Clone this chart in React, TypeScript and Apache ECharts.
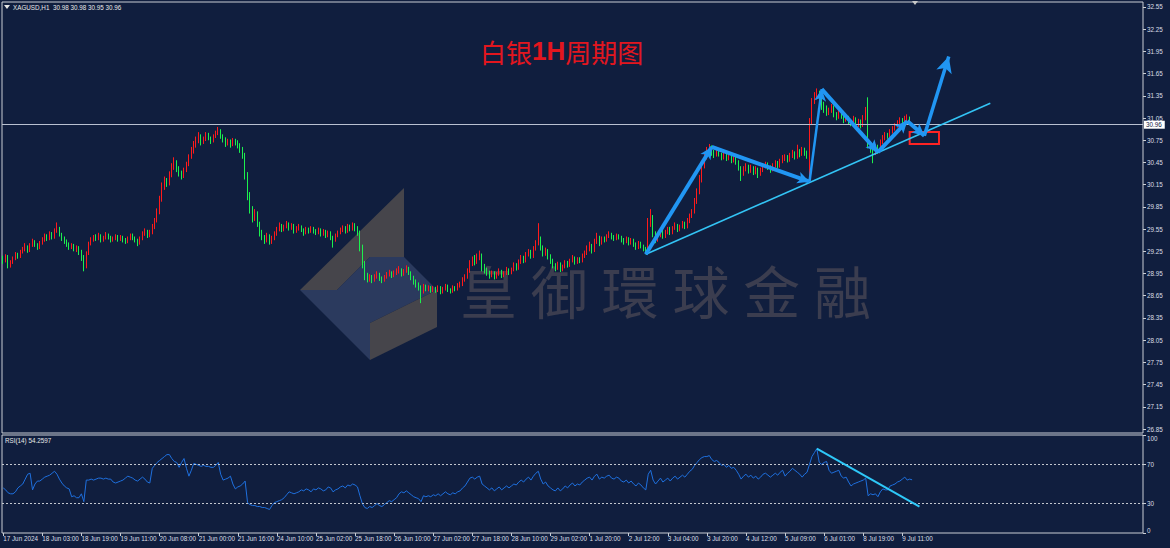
import React, { useEffect, useRef } from "react";
import * as echarts from "echarts";

// ---------- data ----------
const symbolName = "XAGUSD,H1";
const firstOpen = 29.15;
const closes = [
  29.12, 29.18, 29.05, 29.10, 29.15, 29.20, 29.18, 29.24, 29.28, 29.30, 29.26, 29.33, 29.38, 29.34, 29.30, 29.36,
  29.40, 29.45, 29.42, 29.48, 29.44, 29.52, 29.56, 29.48, 29.42, 29.38, 29.35, 29.30, 29.33, 29.28, 29.30, 29.25,
  29.18, 29.05, 29.22, 29.35, 29.40, 29.44, 29.42, 29.46, 29.40, 29.43, 29.47, 29.44, 29.40, 29.42, 29.45, 29.41,
  29.44, 29.40, 29.38, 29.42, 29.46, 29.43, 29.40, 29.36, 29.42, 29.48, 29.52, 29.46, 29.50, 29.58, 29.66, 29.78,
  29.95, 30.12, 30.20, 30.16, 30.28, 30.38, 30.45, 30.36, 30.30, 30.26, 30.34, 30.42, 30.52, 30.60, 30.68, 30.74,
  30.80, 30.72, 30.76, 30.82, 30.78, 30.74, 30.80, 30.84, 30.88, 30.80, 30.76, 30.70, 30.73, 30.69, 30.74, 30.72,
  30.68, 30.62, 30.55, 30.28, 30.00, 29.82, 29.70, 29.76, 29.62, 29.50, 29.44, 29.40, 29.46, 29.38, 29.42, 29.48,
  29.55, 29.60, 29.54, 29.58, 29.62, 29.56, 29.60, 29.52, 29.56, 29.58, 29.54, 29.50, 29.55, 29.52, 29.56, 29.52,
  29.50, 29.54, 29.48, 29.52, 29.46, 29.50, 29.44, 29.40, 29.46, 29.50, 29.53, 29.56, 29.52, 29.58, 29.55, 29.60,
  29.56, 29.50, 29.30, 29.08, 28.92, 28.88, 28.90, 28.86, 28.90, 28.94, 28.88, 28.86, 28.90, 28.93, 28.96, 28.92,
  28.95, 28.98, 29.00, 28.94, 28.98, 29.02, 28.96, 28.90, 28.84, 28.80, 28.76, 28.70, 28.78, 28.74, 28.76, 28.72,
  28.75, 28.72, 28.76, 28.70, 28.74, 28.78, 28.73, 28.71, 28.76, 28.74, 28.78, 28.80, 28.86, 28.90, 28.98, 29.08,
  29.14, 29.10, 29.16, 29.20, 29.05, 29.00, 28.96, 28.92, 28.96, 28.90, 28.94, 28.98, 28.92, 28.95, 29.00, 28.96,
  29.00, 29.06, 29.02, 29.10, 29.16, 29.12, 29.20, 29.24, 29.18, 29.28, 29.35, 29.40, 29.30, 29.22, 29.26, 29.18,
  29.12, 29.06, 29.02, 29.08, 29.00, 29.04, 29.10, 29.06, 29.12, 29.16, 29.10, 29.14, 29.12, 29.18, 29.22, 29.28,
  29.32, 29.26, 29.38, 29.44, 29.36, 29.42, 29.40, 29.45, 29.48, 29.44, 29.42, 29.46, 29.44, 29.40, 29.38, 29.42,
  29.36, 29.40, 29.34, 29.30, 29.36, 29.32, 29.28, 29.25, 29.62, 29.70, 29.48, 29.40, 29.46, 29.52, 29.45, 29.50,
  29.55, 29.50, 29.56, 29.60, 29.54, 29.58, 29.62, 29.58, 29.66, 29.72, 29.78, 29.92, 30.05, 30.22, 30.40, 30.52,
  30.60, 30.64, 30.58, 30.55, 30.60, 30.56, 30.52, 30.55, 30.50, 30.54, 30.48, 30.52, 30.46, 30.38, 30.30, 30.36,
  30.40, 30.34, 30.38, 30.32, 30.36, 30.30, 30.34, 30.40, 30.42, 30.38, 30.35, 30.40, 30.44, 30.40, 30.46, 30.50,
  30.52, 30.48, 30.54, 30.58, 30.52, 30.60, 30.56, 30.62, 30.58, 30.55, 31.00, 31.28, 31.34, 31.38, 31.30, 31.22,
  31.18, 31.12, 31.15, 31.20, 31.10, 31.06, 31.12, 31.08, 31.02, 31.06, 31.00, 30.98, 31.04, 30.96, 31.00, 30.95,
  31.05, 31.14, 30.68, 30.62, 30.58, 30.66, 30.62, 30.72, 30.78, 30.82, 30.80, 30.86, 30.90, 30.94, 30.98, 31.02,
  31.00, 31.04, 31.06, 30.98, 30.96,
];
const highs = [
  29.19, 29.21, 29.20, 29.13, 29.18, 29.24, 29.23, 29.27, 29.31, 29.36, 29.33, 29.36, 29.42, 29.40, 29.36, 29.39,
  29.44, 29.49, 29.48, 29.52, 29.51, 29.56, 29.64, 29.58, 29.50, 29.45, 29.41, 29.37, 29.36, 29.35, 29.33, 29.32,
  29.27, 29.20, 29.25, 29.38, 29.44, 29.47, 29.48, 29.50, 29.48, 29.46, 29.51, 29.49, 29.46, 29.45, 29.48, 29.47,
  29.47, 29.46, 29.43, 29.45, 29.49, 29.49, 29.45, 29.42, 29.45, 29.52, 29.56, 29.54, 29.54, 29.62, 29.70, 29.83,
  30.00, 30.18, 30.26, 30.24, 30.33, 30.44, 30.52, 30.48, 30.40, 30.34, 30.38, 30.46, 30.56, 30.66, 30.74, 30.80,
  30.86, 30.83, 30.80, 30.86, 30.85, 30.80, 30.83, 30.88, 30.93, 30.90, 30.83, 30.79, 30.77, 30.76, 30.78, 30.77,
  30.75, 30.71, 30.66, 30.58, 30.32, 30.05, 29.86, 29.82, 29.79, 29.65, 29.54, 29.47, 29.50, 29.48, 29.46, 29.52,
  29.58, 29.64, 29.62, 29.61, 29.66, 29.64, 29.63, 29.62, 29.59, 29.62, 29.60, 29.56, 29.58, 29.57, 29.59, 29.58,
  29.55, 29.57, 29.56, 29.55, 29.54, 29.53, 29.52, 29.46, 29.49, 29.53, 29.57, 29.60, 29.59, 29.62, 29.61, 29.64,
  29.63, 29.59, 29.53, 29.34, 29.12, 28.96, 28.94, 28.93, 28.94, 28.98, 28.96, 28.91, 28.93, 28.97, 29.00, 28.98,
  28.99, 29.02, 29.05, 29.02, 29.01, 29.06, 29.04, 28.98, 28.92, 28.87, 28.83, 28.79, 28.81, 28.80, 28.79, 28.78,
  28.78, 28.77, 28.79, 28.78, 28.77, 28.81, 28.80, 28.75, 28.79, 28.78, 28.82, 28.84, 28.90, 28.94, 29.02, 29.13,
  29.18, 29.20, 29.22, 29.26, 29.22, 29.08, 29.03, 28.99, 28.99, 28.98, 28.97, 29.02, 29.00, 28.98, 29.04, 29.02,
  29.03, 29.10, 29.09, 29.14, 29.20, 29.19, 29.24, 29.28, 29.27, 29.32, 29.40, 29.63, 29.45, 29.33, 29.30, 29.28,
  29.21, 29.15, 29.09, 29.11, 29.10, 29.07, 29.13, 29.12, 29.15, 29.20, 29.18, 29.17, 29.17, 29.22, 29.26, 29.33,
  29.38, 29.35, 29.42, 29.50, 29.46, 29.45, 29.45, 29.48, 29.52, 29.50, 29.47, 29.49, 29.48, 29.46, 29.43, 29.45,
  29.44, 29.43, 29.42, 29.37, 29.39, 29.38, 29.34, 29.31, 29.70, 29.82, 29.74, 29.52, 29.50, 29.56, 29.54, 29.54,
  29.58, 29.58, 29.59, 29.64, 29.62, 29.61, 29.66, 29.65, 29.70, 29.76, 29.82, 29.97, 30.10, 30.28, 30.46, 30.58,
  30.66, 30.70, 30.68, 30.62, 30.63, 30.63, 30.58, 30.58, 30.57, 30.57, 30.56, 30.55, 30.54, 30.48, 30.40, 30.40,
  30.44, 30.42, 30.42, 30.40, 30.40, 30.38, 30.38, 30.44, 30.46, 30.45, 30.41, 30.44, 30.48, 30.47, 30.50, 30.55,
  30.56, 30.55, 30.58, 30.62, 30.60, 30.69, 30.63, 30.66, 30.65, 30.61, 31.05, 31.32, 31.40, 31.45, 31.42, 31.34,
  31.27, 31.22, 31.19, 31.24, 31.22, 31.13, 31.16, 31.15, 31.10, 31.10, 31.08, 31.03, 31.08, 31.06, 31.04, 31.03,
  31.09, 31.20, 31.33, 30.72, 30.66, 30.70, 30.69, 30.76, 30.82, 30.86, 30.85, 30.90, 30.94, 30.98, 31.02, 31.06,
  31.05, 31.08, 31.10, 31.07, 30.98,
];
const lows = [
  29.08, 29.10, 29.02, 29.03, 29.08, 29.13, 29.15, 29.16, 29.22, 29.25, 29.23, 29.24, 29.31, 29.31, 29.27, 29.28,
  29.34, 29.38, 29.39, 29.40, 29.41, 29.42, 29.50, 29.45, 29.39, 29.35, 29.31, 29.27, 29.28, 29.25, 29.24, 29.20,
  29.12, 28.98, 29.02, 29.20, 29.33, 29.38, 29.39, 29.40, 29.37, 29.38, 29.41, 29.41, 29.37, 29.38, 29.40, 29.38,
  29.39, 29.37, 29.35, 29.36, 29.40, 29.40, 29.37, 29.32, 29.34, 29.40, 29.46, 29.43, 29.44, 29.48, 29.55, 29.64,
  29.75, 29.92, 30.08, 30.12, 30.14, 30.25, 30.35, 30.32, 30.26, 30.22, 30.24, 30.32, 30.40, 30.50, 30.57, 30.65,
  30.71, 30.68, 30.70, 30.74, 30.75, 30.70, 30.72, 30.78, 30.82, 30.77, 30.72, 30.66, 30.68, 30.65, 30.67, 30.68,
  30.64, 30.58, 30.50, 30.22, 29.94, 29.76, 29.64, 29.66, 29.58, 29.45, 29.40, 29.35, 29.37, 29.34, 29.35, 29.40,
  29.46, 29.52, 29.51, 29.52, 29.56, 29.53, 29.54, 29.49, 29.50, 29.53, 29.51, 29.46, 29.48, 29.49, 29.50, 29.49,
  29.47, 29.48, 29.45, 29.46, 29.43, 29.44, 29.40, 29.30, 29.38, 29.44, 29.48, 29.51, 29.49, 29.50, 29.52, 29.53,
  29.52, 29.46, 29.25, 29.02, 28.86, 28.83, 28.84, 28.82, 28.84, 28.88, 28.85, 28.82, 28.84, 28.88, 28.91, 28.89,
  28.90, 28.93, 28.95, 28.91, 28.92, 28.96, 28.93, 28.86, 28.80, 28.76, 28.72, 28.55, 28.68, 28.71, 28.71, 28.69,
  28.70, 28.69, 28.70, 28.67, 28.68, 28.72, 28.70, 28.68, 28.69, 28.71, 28.72, 28.76, 28.78, 28.84, 28.88, 28.96,
  29.05, 29.06, 29.08, 29.13, 28.98, 28.95, 28.92, 28.88, 28.90, 28.87, 28.88, 28.92, 28.89, 28.90, 28.93, 28.93,
  28.94, 28.98, 28.99, 29.00, 29.08, 29.09, 29.10, 29.18, 29.15, 29.16, 29.26, 29.33, 29.26, 29.18, 29.19, 29.14,
  29.08, 29.02, 28.98, 29.00, 28.97, 28.98, 29.02, 29.03, 29.04, 29.10, 29.07, 29.08, 29.09, 29.10, 29.16, 29.20,
  29.25, 29.22, 29.24, 29.35, 29.32, 29.34, 29.37, 29.38, 29.43, 29.41, 29.39, 29.40, 29.41, 29.37, 29.34, 29.36,
  29.33, 29.34, 29.31, 29.27, 29.28, 29.29, 29.25, 29.21, 29.23, 29.58, 29.44, 29.36, 29.38, 29.44, 29.42, 29.43,
  29.48, 29.47, 29.48, 29.54, 29.51, 29.52, 29.56, 29.55, 29.56, 29.63, 29.70, 29.76, 29.89, 30.02, 30.18, 30.37,
  30.49, 30.57, 30.54, 30.51, 30.53, 30.53, 30.48, 30.49, 30.47, 30.48, 30.44, 30.45, 30.42, 30.34, 30.20, 30.27,
  30.33, 30.30, 30.31, 30.28, 30.29, 30.24, 30.27, 30.32, 30.37, 30.35, 30.31, 30.33, 30.38, 30.37, 30.38, 30.44,
  30.47, 30.45, 30.46, 30.51, 30.49, 30.50, 30.52, 30.54, 30.54, 30.50, 30.20, 30.96, 31.24, 31.30, 31.26, 31.16,
  31.12, 31.08, 31.09, 31.12, 31.06, 31.02, 31.04, 31.04, 30.98, 31.00, 30.96, 30.94, 30.96, 30.92, 30.93, 30.91,
  30.93, 31.02, 30.64, 30.58, 30.44, 30.55, 30.57, 30.60, 30.70, 30.75, 30.77, 30.78, 30.84, 30.88, 30.92, 30.96,
  30.97, 30.98, 31.01, 30.96, 30.95,
];
const rsiValues = [
  46, 44, 41, 40, 40, 42, 46, 48, 50, 55, 60, 61, 44, 50, 53, 53,
  55, 57, 58, 59, 61, 63, 60, 55, 51, 48, 46, 45, 37, 38, 36, 36,
  40, 32, 54, 54, 55, 54, 55, 56, 56, 55, 56, 55, 55, 52, 51, 52,
  53, 54, 56, 58, 57, 56, 54, 53, 55, 57, 55, 52, 51, 66, 69, 72,
  74, 76, 78, 80, 80, 76, 73, 72, 67, 72, 76, 66, 58, 64, 71, 70,
  69, 68, 69, 68, 68, 67, 67, 69, 72, 60, 54, 55, 56, 58, 50, 45,
  47, 48, 50, 53, 31, 29, 28, 28, 27, 27, 26, 26, 25, 24, 28, 31,
  32, 33, 34, 36, 39, 42, 41, 40, 41, 42, 44, 43, 45, 44, 42, 45,
  44, 46, 45, 43, 44, 47, 46, 42, 44, 45, 47, 48, 46, 49, 48, 50,
  49, 47, 38, 30, 26, 25, 27, 26, 28, 30, 28, 27, 29, 31, 33, 32,
  34, 36, 40, 42, 41, 43, 41, 39, 37, 36, 35, 32, 38, 37, 38, 37,
  39, 38, 40, 38, 40, 42, 40, 39, 41, 40, 42, 43, 46, 48, 52, 56,
  57, 55, 57, 58, 50, 48, 46, 44, 46, 43, 45, 47, 44, 46, 48, 46,
  48, 50, 49, 52, 54, 52, 55, 57, 54, 58, 61, 63, 55, 50, 52, 48,
  46, 44, 43, 46, 43, 45, 48, 46, 49, 51, 48, 50, 49, 52, 54, 56,
  57, 54, 58, 60, 55, 57, 56, 58, 59, 56, 55, 57, 56, 53, 52, 54,
  51, 53, 50, 48, 51, 49, 46, 44, 60, 64, 54, 50, 53, 56, 52, 54,
  56, 53, 56, 58, 55, 57, 59, 57, 60, 63, 65, 69, 72, 75, 77, 78,
  78, 79, 75, 73, 74, 72, 69, 70, 67, 69, 66, 67, 64, 60, 55, 58,
  60, 57, 59, 56, 58, 55, 57, 60, 61, 59, 57, 59, 61, 59, 62, 64,
  58, 61, 63, 66, 64, 62, 60, 57, 60, 62, 70, 78, 82, 86, 72, 70,
  72, 73, 64, 61, 62, 63, 64, 58, 56, 57, 52, 48, 50, 51, 52, 53,
  54, 56, 38, 40, 39, 40, 37, 42, 45, 44, 44, 48, 49, 50, 52, 53,
  55, 57, 54, 55, 54.2597,
];
const xLabels = [
  "17 Jun 2024", "18 Jun 03:00", "18 Jun 19:00", "19 Jun 11:00", "20 Jun 08:00", "21 Jun 00:00",
  "21 Jun 16:00", "24 Jun 10:00", "25 Jun 02:00", "25 Jun 18:00", "26 Jun 10:00", "27 Jun 02:00",
  "27 Jun 18:00", "28 Jun 10:00", "29 Jun 02:00", "1 Jul 20:00", "2 Jul 12:00", "3 Jul 04:00",
  "3 Jul 20:00", "4 Jul 12:00", "5 Jul 09:00", "6 Jul 01:00", "8 Jul 19:00", "9 Jul 11:00",
];
const priceTicks = [
  26.85, 27.15, 27.45, 27.75, 28.05, 28.35, 28.65, 28.95, 29.25, 29.55,
  29.85, 30.15, 30.45, 30.75, 31.05, 31.35, 31.65, 31.95, 32.25, 32.55,
];
const rsiTicks = [0, 30, 70, 100];
const rsiLevels = [70, 30];
const currentPrice = 30.96;
// hand-drawn annotations, in [bar index, price] units
const supportLine = [[263, 29.21], [404, 31.25]];
const waveArrows = [
  [[263, 29.21], [290, 30.66]],
  [[290, 30.66], [330, 30.19]],
  [[330, 30.19], [335, 31.44]],
  [[335, 31.44], [358, 30.59]],
  [[358, 30.59], [370, 31.01]],
  [[370, 31.01], [377, 30.81]],
  [[377, 30.81], [387, 31.88]],
];
const targetBox = [[371, 30.86], [383, 30.7]];
const rsiTrendLine = [[333, 86], [375, 27]];

// ---------- layout / style ----------
const TOTAL_SLOTS = 467;
const LABEL_STEP = 16;
const PRICE_MIN = 26.796;
const PRICE_MAX = 32.6175;
const BG = "#101e3e";
const FRAME = "#c9cdd4";
const TXT = "#dcdfe6";
const UP = "#ff1a1a";
const DOWN = "#1cf04e";
const FONT = "'Liberation Sans', Arial, sans-serif";
const CJK = "'Noto Sans CJK SC', 'Noto Sans CJK TC', sans-serif";

export default function App() {
  const ref = useRef<HTMLDivElement>(null);

  useEffect(() => {
    if (!ref.current) return;
    const chart = echarts.init(ref.current, undefined, { renderer: "svg" });

    const categories = Array.from({ length: TOTAL_SLOTS }, (_, i) => String(i));
    const opens = closes.map((c, i) => (i === 0 ? firstOpen : closes[i - 1]));
    const candleData = closes.map((c, i) => [opens[i], c, lows[i], highs[i]]);
    const last = closes.length - 1;
    const showLabel = (idx: number) => idx % LABEL_STEP === 0 && idx / LABEL_STEP < xLabels.length;

    const arrowItems = waveArrows.map((seg, k) => {
      const isLast = k === waveArrows.length - 1;
      const thin = k === 2;
      return [
        { coord: seg[0], symbol: "none", lineStyle: { color: "#2196f3", width: thin ? 2.5 : isLast ? 3.5 : 4, type: "solid" } },
        { coord: seg[1], symbol: "arrow", symbolSize: isLast ? [12, 16] : [9, 12] },
      ];
    });

    const header = `${symbolName}  ${opens[last].toFixed(2)} ${highs[last].toFixed(2)} ${lows[last].toFixed(2)} ${closes[last].toFixed(2)}`;
    const rsiHeader = `RSI(14) ${rsiValues[last].toFixed(4)}`;

    const wmChars = ["皇", "御", "環", "球", "金", "融"];

    const option: any = {
      animation: false,
      backgroundColor: BG,
      textStyle: { fontFamily: FONT },
      grid: [
        { left: 2, top: 2, width: 1141, height: 431, show: true, borderColor: FRAME, borderWidth: 1 },
        { left: 2, top: 435, width: 1141, height: 98, show: true, borderColor: FRAME, borderWidth: 1 },
      ],
      xAxis: [
        { type: "category", gridIndex: 0, data: categories, show: false, boundaryGap: true },
        {
          type: "category",
          gridIndex: 1,
          data: categories,
          boundaryGap: true,
          axisLine: { show: false },
          axisTick: { show: true, interval: showLabel, alignWithLabel: true, length: 3, lineStyle: { color: FRAME } },
          axisLabel: {
            interval: showLabel,
            formatter: (_v: string, idx: number) => xLabels[idx / LABEL_STEP] ?? "",
            color: TXT,
            fontSize: 6.3,
            fontFamily: FONT,
            align: "left",
            margin: 2,
          },
          splitLine: { show: false },
        },
      ],
      yAxis: [
        {
          type: "value",
          gridIndex: 0,
          position: "right",
          min: PRICE_MIN,
          max: PRICE_MAX,
          splitLine: { show: false },
          axisLine: { show: false },
          axisTick: { show: true, length: 3, customValues: priceTicks, lineStyle: { color: FRAME } },
          axisLabel: {
            customValues: priceTicks,
            formatter: (v: number) => v.toFixed(2),
            color: TXT,
            fontSize: 6.3,
            fontFamily: FONT,
            margin: 4,
          },
        },
        {
          type: "value",
          gridIndex: 1,
          position: "right",
          min: 0,
          max: 100,
          splitLine: { show: false },
          axisLine: { show: false },
          axisTick: { show: true, length: 3, customValues: rsiTicks, lineStyle: { color: FRAME } },
          axisLabel: {
            customValues: rsiTicks,
            color: TXT,
            fontSize: 6.3,
            fontFamily: FONT,
            margin: 4,
            verticalAlignMaxLabel: "top",
            verticalAlignMinLabel: "bottom",
          },
        },
      ],
      series: [
        {
          type: "candlestick",
          xAxisIndex: 0,
          yAxisIndex: 0,
          data: candleData,
          barWidth: 1,
          silent: true,
          itemStyle: { color: UP, color0: DOWN, borderColor: UP, borderColor0: DOWN, borderColorDoji: UP, borderWidth: 1 },
          markLine: {
            silent: true,
            symbol: ["none", "none"],
            label: { show: false },
            data: [
              {
                yAxis: currentPrice,
                lineStyle: { color: "#b9c1d1", width: 1, type: "solid" },
                label: {
                  show: true,
                  position: "end",
                  formatter: currentPrice.toFixed(2),
                  backgroundColor: "#ffffff",
                  color: "#10203f",
                  fontSize: 6.3,
                  fontFamily: FONT,
                  padding: [1, 3, 1, 2],
                  distance: 1,
                },
              },
              [
                { coord: supportLine[0], symbol: "none", lineStyle: { color: "#33c4f5", width: 1.6, type: "solid" } },
                { coord: supportLine[1], symbol: "none" },
              ],
              ...arrowItems,
            ],
          },
          markArea: {
            silent: true,
            itemStyle: { color: "rgba(0,0,0,0)", borderColor: "#ff2323", borderWidth: 2 },
            data: [[{ coord: targetBox[0] }, { coord: targetBox[1] }]],
          },
        },
        {
          type: "line",
          xAxisIndex: 1,
          yAxisIndex: 1,
          data: rsiValues,
          symbol: "none",
          silent: true,
          lineStyle: { color: "#1f70de", width: 1 },
          markLine: {
            silent: true,
            symbol: ["none", "none"],
            label: { show: false },
            data: [
              ...rsiLevels.map((v) => ({ yAxis: v, lineStyle: { color: "#c3c7cf", width: 1, type: [2, 2] } })),
              [
                { coord: rsiTrendLine[0], symbol: "none", lineStyle: { color: "#2ec8f8", width: 2, type: "solid" } },
                { coord: rsiTrendLine[1], symbol: "none" },
              ],
            ],
          },
        },
      ],
      graphic: [
        // watermark logo
        { type: "polygon", z: -10, shape: { points: [[300, 290], [404, 188], [404, 257], [370, 257], [337, 290]] }, style: { fill: "#46454b" } },
        { type: "polygon", z: -10, shape: { points: [[337, 290], [370, 257], [404, 257], [437, 290]] }, style: { fill: "#2b3a5e" } },
        { type: "polygon", z: -10, shape: { points: [[300, 290], [437, 290], [370, 323], [370, 360]] }, style: { fill: "#2b3a5e" } },
        { type: "polygon", z: -10, shape: { points: [[370, 323], [437, 290], [437, 327], [370, 360]] }, style: { fill: "#46454b" } },
        ...wmChars.map((ch, k) => ({
          type: "text",
          z: -10,
          x: 460 + k * 70.8,
          y: 289,
          style: { text: ch, fill: "#3b3d4f", fontSize: 57, fontFamily: "'Noto Sans CJK TC', 'Noto Sans CJK SC', sans-serif", verticalAlign: "middle" },
        })),
        // title
        {
          type: "text",
          x: 480,
          y: 51,
          style: {
            text: "{a|白银}{b|1H}{a|周期图}",
            verticalAlign: "middle",
            rich: {
              a: { fill: "#e3161e", fontSize: 26, fontFamily: CJK },
              b: { fill: "#e3161e", fontSize: 26, fontFamily: FONT, fontWeight: "bold" },
            },
          },
        },
        // header
        { type: "polygon", shape: { points: [[4, 5], [10, 5], [7, 9]] }, style: { fill: "#e6e6e6" } },
        { type: "text", x: 13, y: 7, style: { text: header, fill: "#e8e8e8", fontSize: 6.3, fontFamily: FONT, verticalAlign: "middle" } },
        { type: "text", x: 5, y: 440, style: { text: rsiHeader, fill: "#e8e8e8", fontSize: 6.3, fontFamily: FONT, verticalAlign: "middle" } },
        // chart shift marker
        { type: "polygon", shape: { points: [[912, 1], [918, 1], [915, 5]] }, style: { fill: "#c8c8c8" } },
      ],
    };

    chart.setOption(option);
    return () => chart.dispose();
  }, []);

  return (
    <div
      ref={ref}
      style={{ position: "fixed", left: 0, top: 0, width: 1170, height: 548, background: BG }}
    />
  );
}
